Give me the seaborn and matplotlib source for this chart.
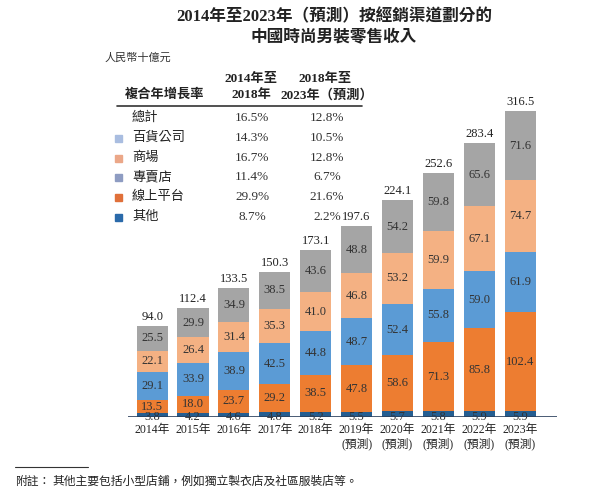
# -*- coding: utf-8 -*-
import matplotlib
matplotlib.use('Agg')
import matplotlib.pyplot as plt
import numpy as np
import pandas as pd
import seaborn as sns

# 數據（人民幣十億元）
years = ['2014年', '2015年', '2016年', '2017年', '2018年',
         '2019年\n(預測)', '2020年\n(預測)', '2021年\n(預測)', '2022年\n(預測)', '2023年\n(預測)']
other = [3.8, 4.2, 4.6, 4.8, 5.2, 5.5, 5.7, 5.8, 5.9, 5.9]
online = [13.5, 18.0, 23.7, 29.2, 38.5, 47.8, 58.6, 71.3, 85.8, 102.4]
specialty = [29.1, 33.9, 38.9, 42.5, 44.8, 48.7, 52.4, 55.8, 59.0, 61.9]
mall = [22.1, 26.4, 31.4, 35.3, 41.0, 46.8, 53.2, 59.9, 67.1, 74.7]
dept = [25.5, 29.9, 34.9, 38.5, 43.6, 48.8, 54.2, 59.8, 65.6, 71.6]
totals = [94.0, 112.4, 133.5, 150.3, 173.1, 197.6, 224.1, 252.6, 283.4, 316.5]

# 表格
cagr_rows = ['總計', '百貨公司', '商場', '專賣店', '線上平台', '其他']
cagr_1418 = ['16.5%', '14.3%', '16.7%', '11.4%', '29.9%', '8.7%']
cagr_1823 = ['12.8%', '10.5%', '12.8%', '6.7%', '21.6%', '2.2%']
legend_colors = [None, '#a9bde0', '#eba788', '#8e9cc2', '#e0703a', '#2a6aaa']

sns.set_theme(style='white')
plt.rcParams['font.family'] = ['Liberation Serif', 'Noto Sans CJK TC', 'DejaVu Sans']

W, H = 608, 499
fig = plt.figure(figsize=(W / 100, H / 100), dpi=100)


def fx(px):
    return px / W


def fy(py):
    return 1 - py / H


ax = fig.add_axes([fx(128), fy(417), fx(557) - fx(128), (417 - 98) / H])

segments = [
    ('其他', other, '#255e91'),
    ('線上平台', online, '#ed7d31'),
    ('專賣店', specialty, '#5b9bd5'),
    ('商場', mall, '#f4b183'),
    ('百貨公司', dept, '#a5a5a5'),
]

bottom = np.zeros(len(years))
for name, vals, col in segments:
    df = pd.DataFrame({'year': years, 'value': vals})
    sns.barplot(data=df, x='year', y='value', order=years, color=col, saturation=1,
                width=0.76, bottom=bottom, linewidth=0, ax=ax)
    for i, v in enumerate(vals):
        # 其他的數值標籤壓在底線上（同原圖）
        yc = 0.3 if name == '其他' else bottom[i] + v / 2
        ax.text(i, yc, f'{v:.1f}', ha='center', va='center',
                fontsize=9, color='#333333', zorder=5, clip_on=False)
    bottom = bottom + np.array(vals)

for i, t in enumerate(totals):
    ax.text(i, bottom[i] + 3, f'{t:.1f}', ha='center', va='bottom', fontsize=9, color='#222222')

ax.axhline(0, color='#2b3f5c', lw=1.2, zorder=6)
ax.set_xlim(-0.59, 9.9)
ax.set_ylim(0, 330)
ax.set_xlabel('')
ax.set_ylabel('')
ax.set_yticks([])
ax.tick_params(axis='x', length=0, labelsize=8.5, pad=5, colors='#222222')
for s in ax.spines.values():
    s.set_visible(False)

# 標題
fig.text(fx(334), fy(17), '2014年至2023年（預測）按經銷渠道劃分的', ha='center', va='center',
         fontsize=12, fontweight='bold', color='#222222')
fig.text(fx(334), fy(38), '中國時尚男裝零售收入', ha='center', va='center',
         fontsize=12, fontweight='bold', color='#222222')
fig.text(fx(105), fy(58), '人民幣十億元', ha='left', va='center', fontsize=8,
         style='italic', color='#333333')

# 複合年增長率表
fig.text(fx(125), fy(95), '複合年增長率', ha='left', va='center', fontsize=9.5,
         fontweight='bold', color='#222222')
fig.text(fx(251), fy(79), '2014年至', ha='center', va='center', fontsize=9.5,
         fontweight='bold', color='#222222')
fig.text(fx(251), fy(95), '2018年', ha='center', va='center', fontsize=9.5,
         fontweight='bold', color='#222222')
fig.text(fx(325), fy(79), '2018年至', ha='center', va='center', fontsize=9.5,
         fontweight='bold', color='#222222')
fig.text(fx(327), fy(95), '2023年（預測）', ha='center', va='center', fontsize=9.5,
         fontweight='bold', color='#222222')
fig.add_artist(plt.Line2D([fx(117), fx(362)], [fy(106), fy(106)], color='#333333', lw=1.2))

row_y = [118, 138, 158, 177, 197, 217]
for name, c1, c2, col, y in zip(cagr_rows, cagr_1418, cagr_1823, legend_colors, row_y):
    if col is not None:
        fig.patches.append(plt.Rectangle((fx(115), fy(y + 3.5)), 7 / W, 7 / H,
                                         transform=fig.transFigure, color=col, figure=fig))
    fig.text(fx(132), fy(y), name, ha='left', va='center', fontsize=9.5, color='#222222')
    fig.text(fx(252), fy(y), c1, ha='center', va='center', fontsize=9.5, color='#333333')
    fig.text(fx(327), fy(y), c2, ha='center', va='center', fontsize=9.5, color='#333333')

# 附註
fig.add_artist(plt.Line2D([fx(15), fx(88)], [fy(467), fy(467)], color='#333333', lw=0.8))
fig.text(fx(15), fy(482), '附註：', ha='left', va='center', fontsize=8.5,
         style='italic', color='#222222')
fig.text(fx(52), fy(482), '其他主要包括小型店鋪，例如獨立製衣店及社區服裝店等。', ha='left',
         va='center', fontsize=8.5, color='#222222')

fig.savefig('out.png', dpi=100)
